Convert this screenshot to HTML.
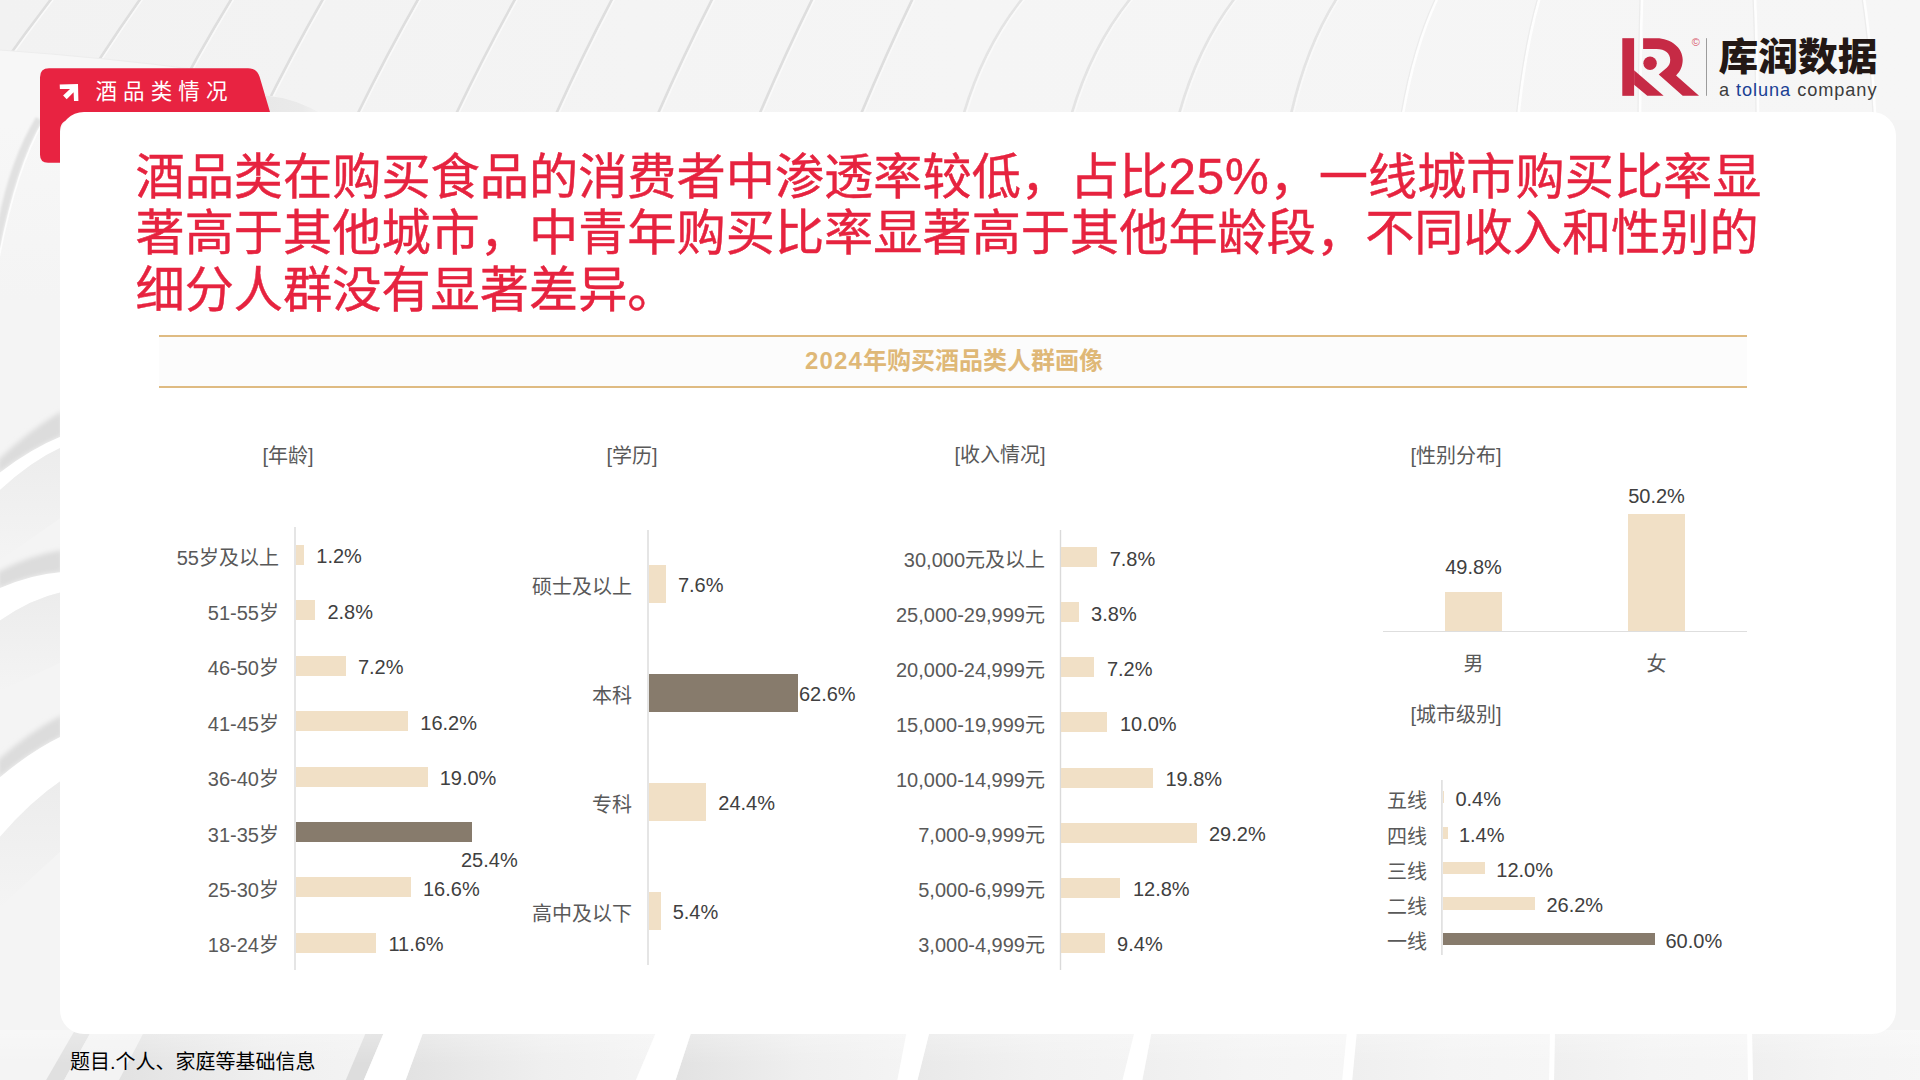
<!DOCTYPE html>
<html lang="zh-CN">
<head>
<meta charset="utf-8">
<title>酒品类情况</title>
<style>
*{margin:0;padding:0;box-sizing:border-box}
html,body{width:1920px;height:1080px;overflow:hidden;background:#f4f4f4}
body{position:relative;font-family:"Liberation Sans","Noto Sans CJK SC",sans-serif;color:#595959}
#bg{position:absolute;left:0;top:0;width:1920px;height:1080px}
#tab{position:absolute;left:0;top:0;width:1920px;height:1080px}
#tabtxt{position:absolute;left:95.5px;top:77.2px;height:30px;line-height:30px;font-size:21.5px;letter-spacing:6.1px;color:#fff;white-space:nowrap}
#card{position:absolute;left:60px;top:112px;width:1836px;height:922px;border-radius:24px;background:#fff}
#title{position:absolute;left:135.5px;top:148.6px;width:1700px;font-size:49.2px;line-height:56.85px;color:#e6233f;font-weight:400;-webkit-text-stroke:0.45px #e6233f;white-space:nowrap}
#band{position:absolute;left:159px;top:335px;width:1588px;height:53px;border-top:2px solid #dfbb82;border-bottom:2px solid #dfbb82;background:#fcfcfc}
#bandtxt{position:absolute;left:160px;top:335px;width:1588px;height:53px;line-height:51.5px;text-align:center;font-size:24px;font-weight:700;color:#dfb877;white-space:nowrap}
.h{position:absolute;font-size:20px;line-height:28px;height:28px;white-space:nowrap;color:#595959;transform:translateX(-50%);font-weight:400}
.l{position:absolute;font-size:20px;line-height:28px;height:28px;white-space:nowrap;color:#595959;text-align:right;font-weight:400}
.v{position:absolute;font-size:20px;line-height:28px;height:28px;white-space:nowrap;color:#404040;font-weight:350}
.b{position:absolute;background:#f1e0c6}
.d{background:#877b6c}
.ax{position:absolute;background:#dedede}
#foot{position:absolute;left:70px;top:1048px;font-size:20px;line-height:28px;color:#000;white-space:nowrap}
#logo{position:absolute;left:0;top:0;width:1920px;height:1080px}
</style>
</head>
<body>
<svg id="bg" viewBox="0 0 1920 1080"><defs>
<linearGradient id="gp" x1="0" y1="0" x2="1" y2="0"><stop offset="0" stop-color="#e2e2e2"/><stop offset="0.55" stop-color="#efefef"/><stop offset="1" stop-color="#f4f4f4"/></linearGradient>
<linearGradient id="gp2" x1="0" y1="0" x2="1" y2="0"><stop offset="0" stop-color="#e9e9e9"/><stop offset="0.55" stop-color="#f1f1f1"/><stop offset="1" stop-color="#f4f4f4"/></linearGradient>
<linearGradient id="gq" x1="0" y1="0" x2="1" y2="0"><stop offset="0" stop-color="#efefef"/><stop offset="0.5" stop-color="#f4f4f4"/><stop offset="1" stop-color="#f6f6f6"/></linearGradient>
<linearGradient id="gl" x1="0" y1="0" x2="0" y2="1"><stop offset="0" stop-color="#eaeaea"/><stop offset="1" stop-color="#f4f4f4"/></linearGradient>
<linearGradient id="gt" x1="0" y1="0" x2="1" y2="0"><stop offset="0" stop-color="#f2f2f2"/><stop offset="0.5" stop-color="#f5f5f5"/><stop offset="1" stop-color="#f6f6f6"/></linearGradient>
<linearGradient id="ge" x1="0" y1="0" x2="1" y2="0"><stop offset="0" stop-color="#e8e8e8"/><stop offset="0.6" stop-color="#eaeaea"/><stop offset="1" stop-color="#f3f3f3"/></linearGradient>
<linearGradient id="gf" gradientUnits="userSpaceOnUse" x1="0" y1="50" x2="0" y2="300"><stop offset="0" stop-color="#f7f7f7"/><stop offset="0.3" stop-color="#f7f7f7"/><stop offset="1" stop-color="#f4f4f4"/></linearGradient>
<filter id="bl1" x="-20%" y="-20%" width="140%" height="140%"><feGaussianBlur stdDeviation="1"/></filter>
<filter id="bl" x="-20%" y="-20%" width="140%" height="140%"><feGaussianBlur stdDeviation="2.5"/></filter>
<linearGradient id="gw" x1="0" y1="0" x2="0" y2="1"><stop offset="0" stop-color="#fff" stop-opacity="0.3"/><stop offset="1" stop-color="#fff" stop-opacity="0"/></linearGradient>
</defs>
<rect width="1920" height="1080" fill="#f4f4f4"/>
<rect width="1920" height="120" fill="url(#gt)"/>
<path d="M52 -2 Q8.8 54 -31 114" fill="none" stroke="#dedede" stroke-width="2.6" opacity="1.0"/>
<path d="M54.6 -2 Q11.4 54 -28.4 114" fill="none" stroke="#fafafa" stroke-width="1.4"/>
<path d="M141 -2 Q101.5 54 65 114" fill="none" stroke="#dedede" stroke-width="2.6" opacity="1.0"/>
<path d="M143.6 -2 Q104.1 54 67.6 114" fill="none" stroke="#fafafa" stroke-width="1.4"/>
<path d="M232 -2 Q197.9 54 166.5 114" fill="none" stroke="#dedede" stroke-width="2.6" opacity="1.0"/>
<path d="M234.6 -2 Q200.5 54 169.1 114" fill="none" stroke="#fafafa" stroke-width="1.4"/>
<path d="M323.6 -2 Q291.6 54 262 114" fill="none" stroke="#dedede" stroke-width="2.6" opacity="1.0"/>
<path d="M326.20000000000005 -2 Q294.2 54 264.6 114" fill="none" stroke="#fafafa" stroke-width="1.4"/>
<path d="M418.8 -2 Q386.9 54 357.5 114" fill="none" stroke="#dedede" stroke-width="2.6" opacity="1.0"/>
<path d="M421.40000000000003 -2 Q389.5 54 360.1 114" fill="none" stroke="#fafafa" stroke-width="1.4"/>
<path d="M515.7 -2 Q484.7 54 456 114" fill="none" stroke="#dedede" stroke-width="2.6" opacity="1.0"/>
<path d="M518.3000000000001 -2 Q487.3 54 458.6 114" fill="none" stroke="#fafafa" stroke-width="1.4"/>
<path d="M612.6 -2 Q583.2 54 556 114" fill="none" stroke="#dedede" stroke-width="2.6" opacity="1.0"/>
<path d="M615.2 -2 Q585.8 54 558.6 114" fill="none" stroke="#fafafa" stroke-width="1.4"/>
<path d="M712.7 -2 Q684.2 54 657.8 114" fill="none" stroke="#dedede" stroke-width="2.6" opacity="1.0"/>
<path d="M715.3000000000001 -2 Q686.8 54 660.4 114" fill="none" stroke="#fafafa" stroke-width="1.4"/>
<path d="M812.8 -2 Q785.1 54 759.5 114" fill="none" stroke="#dedede" stroke-width="2.6" opacity="1.0"/>
<path d="M815.4 -2 Q787.7 54 762.1 114" fill="none" stroke="#fafafa" stroke-width="1.4"/>
<path d="M913 -2 Q886.0 54 861 114" fill="none" stroke="#dedede" stroke-width="2.6" opacity="1.0"/>
<path d="M915.6 -2 Q888.6 54 863.6 114" fill="none" stroke="#fafafa" stroke-width="1.4"/>
<path d="M1023 -2 Q983.8 46 963.6 114" fill="none" stroke="#dedede" stroke-width="2.6" opacity="0.75"/>
<path d="M1025.6 -2 Q986.4 46 966.2 114" fill="none" stroke="#fafafa" stroke-width="1.4"/>
<path d="M1131 -2 Q1091.7 46 1071.5 114" fill="none" stroke="#dedede" stroke-width="2.6" opacity="0.75"/>
<path d="M1133.6 -2 Q1094.3 46 1074.1 114" fill="none" stroke="#fafafa" stroke-width="1.4"/>
<path d="M1235 -2 Q1198.0 46 1179 114" fill="none" stroke="#dedede" stroke-width="2.6" opacity="0.75"/>
<path d="M1237.6 -2 Q1200.6 46 1181.6 114" fill="none" stroke="#fafafa" stroke-width="1.4"/>
<path d="M1337 -2 Q1306.6 46 1291 114" fill="none" stroke="#dedede" stroke-width="2.6" opacity="0.75"/>
<path d="M1339.6 -2 Q1309.2 46 1293.6 114" fill="none" stroke="#fafafa" stroke-width="1.4"/>
<path d="M1437.6 -2 Q1414.8 46 1403 114" fill="none" stroke="#fefefe" stroke-width="2.6"/>
<path d="M1435.6 -2 Q1412.8 46 1401 114" fill="none" stroke="#ececec" stroke-width="1.2"/>
<path d="M1539.7 -2 Q1525.7 46 1518.5 114" fill="none" stroke="#fefefe" stroke-width="2.6"/>
<path d="M1537.7 -2 Q1523.7 46 1516.5 114" fill="none" stroke="#ececec" stroke-width="1.2"/>
<path d="M1642 -2 Q1640.7 46 1640 114" fill="none" stroke="#fefefe" stroke-width="2.6"/>
<path d="M1640 -2 Q1638.7 46 1638 114" fill="none" stroke="#ececec" stroke-width="1.2"/>
<path d="M1755 -2 Q1757.0 46 1758 114" fill="none" stroke="#fefefe" stroke-width="2.6"/>
<path d="M1753 -2 Q1755.0 46 1756 114" fill="none" stroke="#ececec" stroke-width="1.2"/>
<path d="M1864 -2 Q1871.3 46 1875 114" fill="none" stroke="#fefefe" stroke-width="2.6"/>
<path d="M1862 -2 Q1869.3 46 1873 114" fill="none" stroke="#ececec" stroke-width="1.2"/>
<path d="M0 50 Q110 58 200 70 Q242 78 267 95.5 Q296 98 326 116 L326 118 L62 118 L62 300 L0 300 Z" fill="url(#gf)"/>
<path d="M0 50 Q110 58 200 70 Q242 78 267 95.5" fill="none" stroke="#ededed" stroke-width="1"/>
<path d="M266 95.5 Q296 98 326 116 L266 116 Z" fill="url(#ge)"/>
<path d="M42 121 Q15 168 -2 256 L-2 222 Q10 160 36 117 Z" fill="#e1e1e1" filter="url(#bl1)"/>
<path d="M43.5 121 Q16 169 -1 258" fill="none" stroke="#fdfdfd" stroke-width="1.6"/>
<path d="M62 411 Q30 429.5 -2 460 L-2 474 Q30 449.0 62 436 Z" fill="#dcdcdc" filter="url(#bl)"/>
<path d="M62 436 Q30 449.0 -2 474 L-2 492 Q30 461.5 62 447 Z" fill="#ffffff"/>
<path d="M62 447 Q30 461.5 -2 492 L-2 562 L62 517 Z" fill="url(#gl)" opacity="0.8"/>
<path d="M62 550 Q30 555.0 -2 572 L-2 589 Q30 574.5 62 572 Z" fill="#dcdcdc" filter="url(#bl)"/>
<path d="M62 572 Q30 574.5 -2 589 L-2 622 Q30 599.0 62 592 Z" fill="#ffffff"/>
<path d="M62 592 Q30 599.0 -2 622 L-2 692 L62 662 Z" fill="url(#gl)" opacity="0.8"/>
<path d="M62 715 Q30 731.5 -2 760 L-2 779 Q30 751.5 62 736 Z" fill="#dcdcdc" filter="url(#bl)"/>
<path d="M62 736 Q30 751.5 -2 779 L-2 839 Q30 801.5 62 780 Z" fill="#ffffff"/>
<path d="M62 780 Q30 801.5 -2 839 L-2 909 L62 850 Z" fill="url(#gl)" opacity="0.8"/>
<path d="M75 1030 L92 1030 L63 1082 L45 1082 Z" fill="#e0e0e0" opacity="1"/>
<path d="M92 1030 L145 1030 L118 1082 L63 1082 Z" fill="#f3f3f3" opacity="1"/>
<path d="M145 1030 L385 1030 L363 1082 L118 1082 Z" fill="url(#gp)" opacity="1"/>
<path d="M367 1030 L385 1030 L363 1082 L345 1082 Z" fill="#dddddd" opacity="1"/>
<path d="M424 1030 L657 1030 L635 1082 L405 1082 Z" fill="url(#gp)" opacity="1"/>
<path d="M385 1030 L424 1030 L405 1082 L363 1082 Z" fill="#ffffff" opacity="1"/>
<path d="M692 1030 L907 1030 L897 1082 L675 1082 Z" fill="url(#gp)" opacity="1"/>
<path d="M657 1030 L692 1030 L675 1082 L635 1082 Z" fill="#ffffff" opacity="1"/>
<path d="M930 1030 L1135 1030 L1122 1082 L917 1082 Z" fill="url(#gp2)" opacity="1"/>
<path d="M907 1030 L930 1030 L917 1082 L897 1082 Z" fill="#ffffff" opacity="1"/>
<path d="M1152 1030 L1347 1030 L1342 1082 L1142 1082 Z" fill="url(#gq)" opacity="1"/>
<path d="M1135 1030 L1152 1030 L1142 1082 L1122 1082 Z" fill="#ffffff" opacity="1"/>
<path d="M1357 1030 L1550 1030 L1549 1082 L1352 1082 Z" fill="url(#gq)" opacity="1"/>
<path d="M1347 1030 L1357 1030 L1352 1082 L1342 1082 Z" fill="#ffffff" opacity="1"/>
<path d="M1555 1030 L1747 1030 L1748 1082 L1554 1082 Z" fill="url(#gq)" opacity="1"/>
<path d="M1550 1030 L1555 1030 L1554 1082 L1549 1082 Z" fill="#ffffff" opacity="1"/>
<path d="M1752 1030 L1925 1030 L1925 1082 L1753 1082 Z" fill="url(#gq)" opacity="1"/>
<path d="M1747 1030 L1752 1030 L1753 1082 L1748 1082 Z" fill="#ffffff" opacity="1"/>
<rect x="0" y="1030" width="1920" height="34" fill="url(#gw)"/></svg>
<svg id="tab" viewBox="0 0 1920 1080">
<path d="M49 68.3 H248 C254.5 68.3 257.5 71 259.6 76.8 L270.3 113 V120 H70 Q60 120 60 132 V162.7 H48 Q40 162.7 40 154.7 V77.3 Q40 68.3 49 68.3 Z" fill="#e82341"/>
<path d="M59.7 84.4 L78 83.9 L78.4 101.1 L74 101.1 L73.6 92.2 L66.7 99.2 L63.1 95.6 L70 88.9 L59.9 88.9 Z" fill="#fff"/>
</svg>
<div id="tabtxt">酒品类情况</div>
<div id="card"></div>
<div id="title">酒品类在购买食品的消费者中渗透率较低，占比<span style="letter-spacing:0.9px">25%</span>，一线城市购买比率显<br>著高于其他城市，中青年购买比率显著高于其他年龄段，不同收入和性别的<br>细分人群没有显著差异。</div>
<div id="band"></div>
<div id="bandtxt"><span style="letter-spacing:1.2px">2024</span>年购买酒品类人群画像</div>
<div class="h" style="left:288px;top:442.0px">[年龄]</div>
<div class="h" style="left:632px;top:442.0px">[学历]</div>
<div class="h" style="left:1000px;top:441.0px">[收入情况]</div>
<div class="h" style="left:1456px;top:442.0px">[性别分布]</div>
<div class="h" style="left:1456px;top:701.0px">[城市级别]</div>
<svg class="axs" style="position:absolute;left:292px;top:527px" width="6" height="443"><rect x="2.30" y="0" width="1.4" height="443" fill="#dadada"/></svg>
<div class="b" style="left:296.0px;top:545.0px;width:8.3px;height:20px"></div>
<div class="l" style="left:59px;width:220px;top:543.5px">55岁及以上</div>
<div class="v" style="left:316.3px;top:542.3px">1.2%</div>
<div class="b" style="left:296.0px;top:600.4px;width:19.4px;height:20px"></div>
<div class="l" style="left:59px;width:220px;top:598.9px">51-55岁</div>
<div class="v" style="left:327.4px;top:597.7px">2.8%</div>
<div class="b" style="left:296.0px;top:655.8px;width:49.9px;height:20px"></div>
<div class="l" style="left:59px;width:220px;top:654.3px">46-50岁</div>
<div class="v" style="left:357.9px;top:653.1px">7.2%</div>
<div class="b" style="left:296.0px;top:711.2px;width:112.3px;height:20px"></div>
<div class="l" style="left:59px;width:220px;top:709.7px">41-45岁</div>
<div class="v" style="left:420.3px;top:708.5px">16.2%</div>
<div class="b" style="left:296.0px;top:766.6px;width:131.7px;height:20px"></div>
<div class="l" style="left:59px;width:220px;top:765.1px">36-40岁</div>
<div class="v" style="left:439.7px;top:763.9px">19.0%</div>
<div class="b d" style="left:296.0px;top:822.0px;width:176.0px;height:20px"></div>
<div class="l" style="left:59px;width:220px;top:820.5px">31-35岁</div>
<div class="v" style="left:461.0px;top:846.2px">25.4%</div>
<div class="b" style="left:296.0px;top:877.4px;width:115.0px;height:20px"></div>
<div class="l" style="left:59px;width:220px;top:875.9px">25-30岁</div>
<div class="v" style="left:423.0px;top:874.7px">16.6%</div>
<div class="b" style="left:296.0px;top:932.8px;width:80.4px;height:20px"></div>
<div class="l" style="left:59px;width:220px;top:931.3px">18-24岁</div>
<div class="v" style="left:388.4px;top:930.1px">11.6%</div>
<svg class="axs" style="position:absolute;left:645px;top:530px" width="6" height="435"><rect x="2.30" y="0" width="1.4" height="435" fill="#dadada"/></svg>
<div class="b" style="left:649.0px;top:565.0px;width:16.9px;height:38.4px"></div>
<div class="l" style="left:412px;width:220px;top:573.2px">硕士及以上</div>
<div class="v" style="left:677.9px;top:571.3px">7.6%</div>
<div class="b d" style="left:649.0px;top:674.0px;width:148.9px;height:38.4px"></div>
<div class="l" style="left:412px;width:220px;top:682.2px">本科</div>
<div class="v" style="left:798.9px;top:680.3px">62.6%</div>
<div class="b" style="left:649.0px;top:783.0px;width:57.3px;height:38.4px"></div>
<div class="l" style="left:412px;width:220px;top:791.2px">专科</div>
<div class="v" style="left:718.3px;top:789.3px">24.4%</div>
<div class="b" style="left:649.0px;top:892.0px;width:11.7px;height:38.4px"></div>
<div class="l" style="left:412px;width:220px;top:900.2px">高中及以下</div>
<div class="v" style="left:672.7px;top:898.3px">5.4%</div>
<svg class="axs" style="position:absolute;left:1057px;top:530px" width="6" height="440"><rect x="2.80" y="0" width="1.4" height="440" fill="#dadada"/></svg>
<div class="b" style="left:1061.1px;top:547.3px;width:36.2px;height:20px"></div>
<div class="l" style="left:825px;width:220px;top:545.7px">30,000元及以上</div>
<div class="v" style="left:1109.7px;top:544.6px">7.8%</div>
<div class="b" style="left:1061.1px;top:602.3px;width:17.6px;height:20px"></div>
<div class="l" style="left:825px;width:220px;top:600.7px">25,000-29,999元</div>
<div class="v" style="left:1091.1px;top:599.6px">3.8%</div>
<div class="b" style="left:1061.1px;top:657.4px;width:33.4px;height:20px"></div>
<div class="l" style="left:825px;width:220px;top:655.8px">20,000-24,999元</div>
<div class="v" style="left:1106.9px;top:654.7px">7.2%</div>
<div class="b" style="left:1061.1px;top:712.4px;width:46.4px;height:20px"></div>
<div class="l" style="left:825px;width:220px;top:710.8px">15,000-19,999元</div>
<div class="v" style="left:1119.9px;top:709.7px">10.0%</div>
<div class="b" style="left:1061.1px;top:767.5px;width:91.9px;height:20px"></div>
<div class="l" style="left:825px;width:220px;top:765.9px">10,000-14,999元</div>
<div class="v" style="left:1165.4px;top:764.8px">19.8%</div>
<div class="b" style="left:1061.1px;top:822.5px;width:135.5px;height:20px"></div>
<div class="l" style="left:825px;width:220px;top:820.9px">7,000-9,999元</div>
<div class="v" style="left:1209.0px;top:819.8px">29.2%</div>
<div class="b" style="left:1061.1px;top:877.5px;width:59.4px;height:20px"></div>
<div class="l" style="left:825px;width:220px;top:875.9px">5,000-6,999元</div>
<div class="v" style="left:1132.9px;top:874.8px">12.8%</div>
<div class="b" style="left:1061.1px;top:932.6px;width:43.6px;height:20px"></div>
<div class="l" style="left:825px;width:220px;top:931.0px">3,000-4,999元</div>
<div class="v" style="left:1117.1px;top:929.9px">9.4%</div>
<div class="ax" style="left:1383px;top:630.5px;width:364px;height:1.5px"></div>
<div class="b" style="left:1445px;top:592px;width:57px;height:38.5px"></div>
<div class="b" style="left:1628px;top:514px;width:57px;height:116.5px"></div>
<div class="v" style="left:1473.5px;top:553px;transform:translateX(-50%)">49.8%</div>
<div class="v" style="left:1656.5px;top:482px;transform:translateX(-50%)">50.2%</div>
<div class="l" style="left:1473.5px;top:649.5px;transform:translateX(-50%)">男</div>
<div class="l" style="left:1656.5px;top:649.5px;transform:translateX(-50%)">女</div>
<svg class="axs" style="position:absolute;left:1439px;top:780px" width="6" height="175"><rect x="2.20" y="0" width="1.4" height="175" fill="#dadada"/></svg>
<div class="b" style="left:1443.0px;top:791.1px;width:1.4px;height:12.4px"></div>
<div class="l" style="left:1207px;width:220px;top:787.4px">五线</div>
<div class="v" style="left:1455.4px;top:785.3px">0.4%</div>
<div class="b" style="left:1443.0px;top:826.5px;width:4.9px;height:12.4px"></div>
<div class="l" style="left:1207px;width:220px;top:822.5px">四线</div>
<div class="v" style="left:1458.9px;top:820.7px">1.4%</div>
<div class="b" style="left:1443.0px;top:861.9px;width:42.3px;height:12.4px"></div>
<div class="l" style="left:1207px;width:220px;top:857.6px">三线</div>
<div class="v" style="left:1496.3px;top:856.1px">12.0%</div>
<div class="b" style="left:1443.0px;top:897.2px;width:92.4px;height:12.4px"></div>
<div class="l" style="left:1207px;width:220px;top:892.7px">二线</div>
<div class="v" style="left:1546.4px;top:891.4px">26.2%</div>
<div class="b d" style="left:1443.0px;top:932.6px;width:211.5px;height:12.4px"></div>
<div class="l" style="left:1207px;width:220px;top:927.9px">一线</div>
<div class="v" style="left:1665.5px;top:926.8px">60.0%</div>
<div id="foot">题目.个人、家庭等基础信息</div>
<svg id="logo" viewBox="0 0 1920 1080"><g transform="translate(1615,30) scale(0.0694444)" fill="#c62a45">
<rect x="105" y="118" width="170" height="830"/>
<path d="M275 580 L700 948 H465 L275 790 Z"/>
<path d="M405 118 H600 C800 118 975 250 975 430 C975 520 940 600 880 655 L1210 948 H975 L630 640 L745 545 C780 515 795 480 795 430 C795 340 720 275 600 275 H405 Z"/>
<circle cx="505" cy="480" r="97"/>
</g>
<text x="1695.7" y="46.4" font-family="'Liberation Sans','Noto Sans CJK SC',sans-serif" font-size="11" fill="#d9566b" text-anchor="middle">©</text>
<rect x="1706" y="38.2" width="1" height="57.6" fill="#9c9c9c"/>
<text x="1718.5" y="70.3" font-family="'Liberation Sans','Noto Sans CJK SC',sans-serif" font-weight="900" font-size="37.6" fill="#231815" textLength="159" lengthAdjust="spacingAndGlyphs">库润数据</text>
<text x="1719" y="96" font-family="'Liberation Sans','Noto Sans CJK SC',sans-serif" font-size="18.2" fill="#3c3c3c" textLength="157.5" lengthAdjust="spacing">a <tspan fill="#1b3f94">toluna</tspan> company</text>
</svg>
</body>
</html>
